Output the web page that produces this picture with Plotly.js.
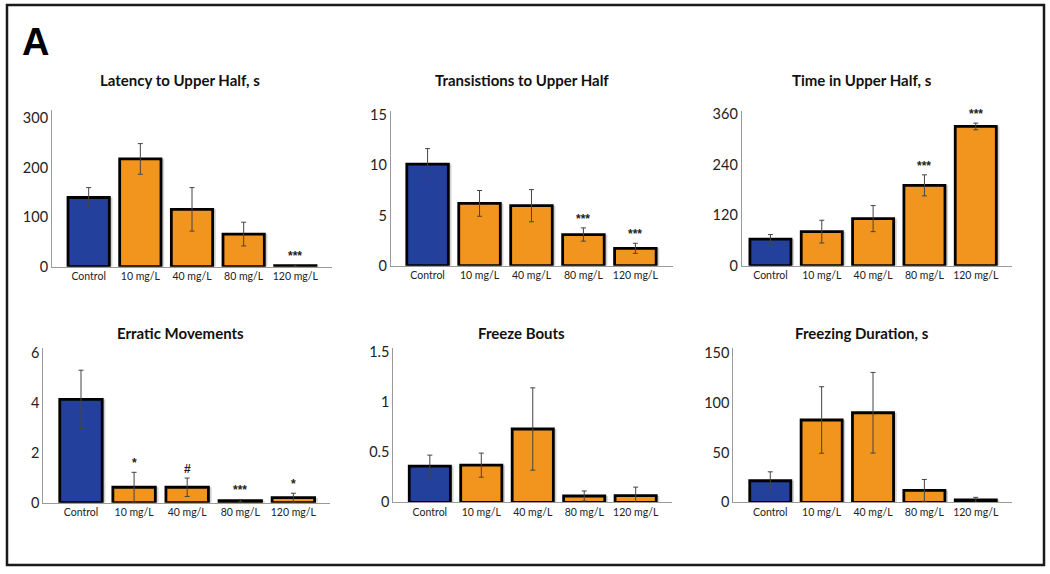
<!DOCTYPE html>
<html>
<head>
<meta charset="utf-8">
<script src="https://cdn.plot.ly/plotly-3.0.1.min.js"></script>
<style>html,body{margin:0;padding:0;background:#fff}#chart{width:1050px;height:574px}</style>
</head>
<body>
<div id="chart"></div>
<script>
// ---- Data ----
var categories = ['Control', '10 mg/L', '40 mg/L', '80 mg/L', '120 mg/L'];

var latency      = [140, 218, 116, 66, 2];
var latencyErr   = [20, 31, 44, 24, 2];
var latencySig   = ['', '', '', '', '***'];

var transitions    = [10.1, 6.2, 5.97, 3.1, 1.73];
var transitionsErr = [1.55, 1.28, 1.6, 0.66, 0.5];
var transitionsSig = ['', '', '', '***', '***'];

var timeUpper    = [63, 81, 112, 191, 331];
var timeUpperErr = [11, 27, 31, 25, 8];
var timeUpperSig = ['', '', '', '***', '***'];

var erratic    = [4.15, 0.62, 0.62, 0.08, 0.2];
var erraticErr = [1.17, 0.6, 0.37, 0.05, 0.18];
var erraticSig = ['', '*', '#', '***', '*'];

var freezeBouts    = [0.36, 0.37, 0.73, 0.063, 0.066];
var freezeBoutsErr = [0.11, 0.12, 0.41, 0.05, 0.085];
var freezeBoutsSig = ['', '', '', '', ''];

var freezeDur    = [21.7, 82.9, 90.2, 12, 2.5];
var freezeDurErr = [9, 33.5, 40.6, 11, 2.5];
var freezeDurSig = ['', '', '', '', ''];

var titles = ['Latency to Upper Half, s', 'Transistions to Upper Half', 'Time in Upper Half, s',
              'Erratic Movements', 'Freeze Bouts', 'Freezing Duration, s'];
var tickVals = [[0, 100, 200, 300], [0, 5, 10, 15], [0, 120, 240, 360],
                [0, 2, 4, 6], [0, 0.5, 1, 1.5], [0, 50, 100, 150]];
var tickText = [['0', '100', '200', '300'], ['0', '5', '10', '15'], ['0', '120', '240', '360'],
                ['0', '2', '4', '6'], ['0', '0.5', '1', '1.5'], ['0', '50', '100', '150']];

// ---- Layout geometry (pixels) ----
var W = 1050, H = 574;
var BLUE = '#22409C', ORANGE = '#F2951E';
var panels = [
  {v: latency, e: latencyErr, s: latencySig, xpx: [52, 332], ypx: [110, 266.7], xr: [-0.71, 4.71], yr: [0, 317], tx: 180, ty: 80},
  {v: transitions, e: transitionsErr, s: transitionsSig, xpx: [390.7, 673.3], ypx: [110.7, 265.7], xr: [-0.71, 4.73], yr: [0, 15.42], tx: 521.7, ty: 80},
  {v: timeUpper, e: timeUpperErr, s: timeUpperSig, xpx: [741.7, 1011.7], ypx: [110.7, 265.7], xr: [-0.56, 4.7], yr: [0, 368.5], tx: 861.7, ty: 80},
  {v: erratic, e: erraticErr, s: erraticSig, xpx: [43.3, 330], ypx: [348.3, 502.7], xr: [-0.71, 4.69], yr: [0, 6.2], tx: 180, ty: 333},
  {v: freezeBouts, e: freezeBoutsErr, s: freezeBoutsSig, xpx: [393.3, 671.7], ypx: [348.3, 502.3], xr: [-0.71, 4.7], yr: [0, 1.534], tx: 521.7, ty: 333},
  {v: freezeDur, e: freezeDurErr, s: freezeDurSig, xpx: [733.3, 1011.7], ypx: [348.3, 502.3], xr: [-0.72, 4.7], yr: [0, 155.1], tx: 861.7, ty: 333}
];

var data = [];
var layout = {
  width: W, height: H,
  margin: {l: 0, r: 0, t: 0, b: 0, pad: 0},
  paper_bgcolor: '#fff', plot_bgcolor: 'rgba(0,0,0,0)',
  showlegend: false, barmode: 'overlay',
  font: {family: 'Lato, "Open Sans", sans-serif', color: '#111'},
  annotations: [], shapes: []
};

var colors = categories.map(function (c, i) { return i === 0 ? BLUE : ORANGE; });

panels.forEach(function (p, k) {
  var n = k + 1;
  var xa = 'x' + (n === 1 ? '' : n), ya = 'y' + (n === 1 ? '' : n);
  // soft drop shadow behind each bar
  data.push({
    type: 'bar', x: categories, y: p.v, xaxis: xa, yaxis: ya,
    width: 0.8, offset: -0.34,
    marker: {color: 'rgba(90,90,90,0.28)', line: {width: 0}},
    hoverinfo: 'skip'
  });
  data.push({
    type: 'bar', x: categories, y: p.v, xaxis: xa, yaxis: ya,
    width: 0.8,
    marker: {color: colors, line: {color: '#000', width: 2.8}},
    error_y: {type: 'data', array: p.e, visible: true, color: '#444', thickness: 1, width: 2.5}
  });
  var xk = 'xaxis' + (n === 1 ? '' : n), yk = 'yaxis' + (n === 1 ? '' : n);
  layout[xk] = {
    domain: [p.xpx[0] / W, p.xpx[1] / W], anchor: ya,
    type: 'category', range: p.xr,
    showline: true, linecolor: '#9a9a9a', linewidth: 1,
    ticks: '', showgrid: false, zeroline: false, fixedrange: true,
    tickfont: {family: 'Lato, sans-serif', size: 10.5, color: '#222'}
  };
  layout[yk] = {
    domain: [1 - p.ypx[1] / H, 1 - p.ypx[0] / H], anchor: xa,
    range: p.yr, tickvals: tickVals[k], ticktext: tickText[k],
    showline: true, linecolor: '#9a9a9a', linewidth: 1,
    ticks: '', showgrid: false, zeroline: false, fixedrange: true,
    tickfont: {family: 'Lato, sans-serif', size: 14.5, color: '#222'}
  };
  layout.annotations.push({
    xref: 'paper', yref: 'paper', x: p.tx / W, y: 1 - p.ty / H,
    xanchor: 'center', yanchor: 'middle', showarrow: false,
    text: '<b>' + titles[k] + '</b>',
    font: {family: 'Lato, sans-serif', size: 15, color: '#111'}
  });
  p.s.forEach(function (sig, i) {
    if (!sig) return;
    layout.annotations.push({
      xref: xa, yref: ya, x: categories[i], y: p.v[i] + p.e[i],
      xanchor: 'center', yanchor: 'bottom', yshift: 0, showarrow: false,
      text: '<b>' + sig + '</b>', font: {family: 'Liberation Sans, Arial, sans-serif', size: 12, color: '#222'}
    });
  });
});

// Panel letter and outer frame
layout.annotations.push({
  xref: 'paper', yref: 'paper', x: 20 / W, y: 1 - 42 / H,
  xanchor: 'left', yanchor: 'middle', showarrow: false,
  text: '<b>A</b>', font: {family: 'Liberation Sans, Arial, sans-serif', size: 38, color: '#000'}
});
layout.shapes.push({
  type: 'rect', xref: 'paper', yref: 'paper',
  x0: 7 / W, x1: 1044 / W, y0: 1 - 565 / H, y1: 1 - 5 / H,
  line: {color: '#1a1a1a', width: 2.5}, fillcolor: 'rgba(0,0,0,0)'
});

Plotly.newPlot('chart', data, layout, {displayModeBar: false, staticPlot: true});
</script>
</body>
</html>
